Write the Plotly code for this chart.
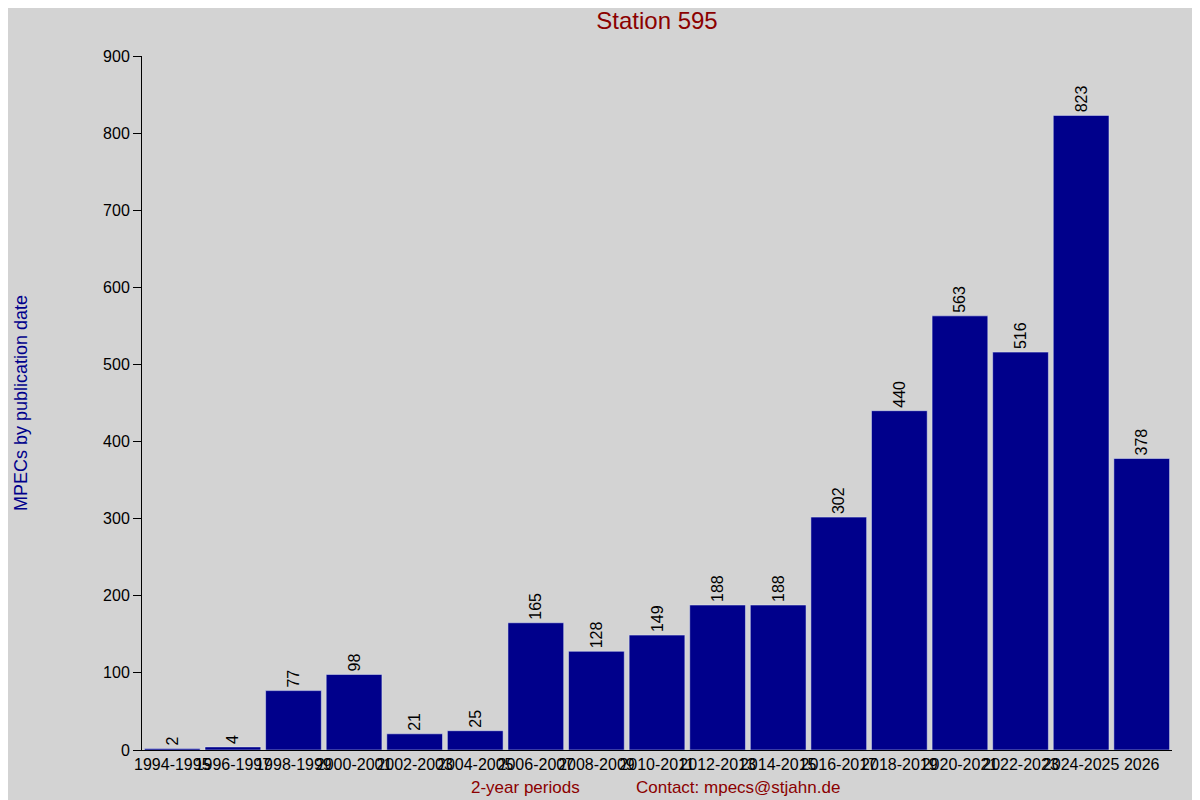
import plotly.graph_objects as go

periods = ["1994-1995", "1996-1997", "1998-1999", "2000-2001", "2002-2003", "2004-2005",
           "2006-2007", "2008-2009", "2010-2011", "2012-2013", "2014-2015", "2016-2017",
           "2018-2019", "2020-2021", "2022-2023", "2024-2025", "2026"]
counts = [2, 4, 77, 98, 21, 25, 165, 128, 149, 188, 188, 302, 440, 563, 516, 823, 378]

fig = go.Figure(go.Bar(
    x=periods, y=counts, marker_color="#00008b",
    text=[str(c) for c in counts], textposition="outside", textangle=-90,
    textfont=dict(color="black", size=16), cliponaxis=False,
))

fig.update_layout(
    width=1200, height=800,
    paper_bgcolor="#d3d3d3", plot_bgcolor="#d3d3d3",
    font=dict(family="Liberation Sans, Arial, sans-serif", size=16, color="black"),
    margin=dict(l=119, r=36, t=48, b=58),
    bargap=0.08,
    showlegend=False,
    title=dict(text="Station 595", x=0.5, xref="paper", xanchor="center", y=0.995, yanchor="top",
               font=dict(size=24, color="#8b0000")),
    annotations=[
        dict(text="2-year periods", x=0.372, xref="paper", y=-0.038, yref="paper",
             xanchor="center", yanchor="top", showarrow=False,
             font=dict(size=17, color="#8b0000")),
        dict(text="Contact: mpecs@stjahn.de", x=0.579, xref="paper", y=-0.038, yref="paper",
             xanchor="center", yanchor="top", showarrow=False,
             font=dict(size=17, color="#8b0000")),
    ],
)
fig.update_xaxes(showline=True, linecolor="black", ticks="", showgrid=False,
                 tickangle=0, tickfont=dict(size=16))
fig.update_yaxes(range=[0, 900], dtick=100, showline=True, linecolor="black",
                 ticks="outside", ticklen=8, tickcolor="black", showgrid=False,
                 zeroline=False, tickfont=dict(size=16),
                 title=dict(text="MPECs by publication date", standoff=70,
                            font=dict(size=18, color="#00008b")))

fig.write_html("out.html")
